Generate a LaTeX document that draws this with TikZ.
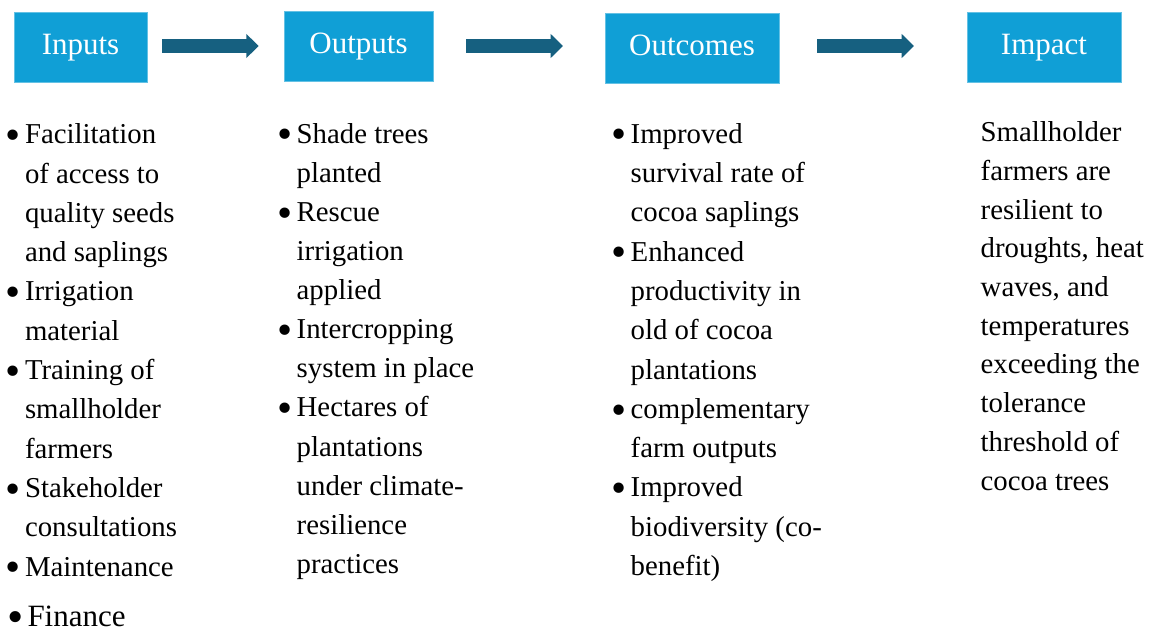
\documentclass[tikz,border=0pt]{standalone}
\usepackage{fontspec}
\setmainfont{Liberation Serif}
\usetikzlibrary{arrows.meta}
\definecolor{boxc}{RGB}{16,159,214}
\definecolor{arrc}{RGB}{22,96,128}
\newlength{\bulw}
\setlength{\bulw}{17.5pt}
\newcommand{\bigdot}{\hspace*{-2pt}\raisebox{-0.2em}{\scalebox{1.5}{•}}}
\newcommand{\bul}{\makebox[\bulw][l]{\bigdot}}
\newcommand{\ind}{\hspace*{\bulw}}
\newcommand{\firststrut}{\rule{0pt}{30pt}}
\begin{document}
\begin{tikzpicture}[x=1pt,y=-1pt,
  hdr/.style={fill=boxc, draw=boxc!65!white, line width=0.7pt, text=white,
    font=\fontsize{31}{36}\selectfont, inner sep=0pt, text height=21pt, text depth=6.8pt},
  col/.style={anchor=north west, inner sep=0pt, align=left, text=black},
  arr/.style={arrc, line width=13.4pt, -{Triangle[width=23.4pt,length=12.3pt]}}
]
\useasboundingbox (0,0) rectangle (1154,629);
\fill[white] (0,0) rectangle (1154,629);

\node[hdr, minimum width=133pt, minimum height=70pt] (in) at (80.5,47) {Inputs};
\node[hdr, minimum width=149pt, minimum height=70pt] (out) at (358.5,46) {Outputs};
\node[hdr, minimum width=174pt, minimum height=70pt] (oc) at (692,48) {Outcomes};
\node[hdr, minimum width=154pt, minimum height=70pt] (im) at (1044,47) {Impact};

\coordinate (ay) at (0,46);
\draw[arr, shorten <=15pt, shorten >=25pt] (in.east |- ay) -- (out.west |- ay);
\draw[arr, shorten <=33pt, shorten >=41.7pt] (out.east |- ay) -- (oc.west |- ay);
\draw[arr, shorten <=38pt, shorten >=52.7pt] (oc.east |- ay) -- (im.west |- ay);

\node[col, font=\fontsize{28.8}{39.3}\selectfont] (c1) at (7.3,113.5) {%
\firststrut\bul Facilitation\\
\ind of access to\\
\ind quality seeds\\
\ind and saplings\\
\bul Irrigation\\
\ind material\\
\bul Training of\\
\ind smallholder\\
\ind farmers\\
\bul Stakeholder\\
\ind consultations\\
\bul Maintenance};

\node[col, font=\fontsize{31}{36}\selectfont] (fin) at (9,596) {%
\firststrut\makebox[18.3pt][l]{\bigdot}Finance};

\node[col, font=\fontsize{28.8}{39.1}\selectfont] (c2) at (279,113) {%
\firststrut\bul Shade trees\\
\ind planted\\
\bul Rescue\\
\ind irrigation\\
\ind applied\\
\bul Intercropping\\
\ind system in place\\
\bul Hectares of\\
\ind plantations\\
\ind under climate-\\
\ind resilience\\
\ind practices};

\node[col, font=\fontsize{28.8}{39.3}\selectfont] (c3) at (613,113) {%
\firststrut\bul Improved\\
\ind survival rate of\\
\ind cocoa saplings\\
\bul Enhanced\\
\ind productivity in\\
\ind old of cocoa\\
\ind plantations\\
\bul complementary\\
\ind farm outputs\\
\bul Improved\\
\ind biodiversity (co-\\
\ind benefit)};

\node[col, font=\fontsize{28.8}{38.7}\selectfont] (c4) at (980.5,111.5) {%
\firststrut Smallholder\\
farmers are\\
resilient to\\
droughts, heat\\
waves, and\\
temperatures\\
exceeding the\\
tolerance\\
threshold of\\
cocoa trees};
\end{tikzpicture}
\end{document}
